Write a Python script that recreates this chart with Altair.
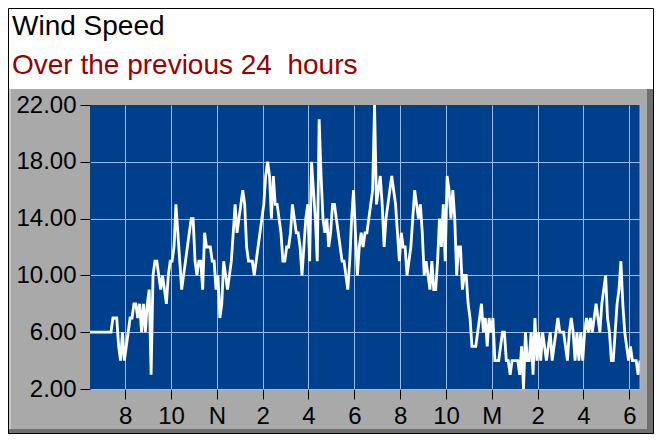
import json
import altair as alt
import pandas as pd

# ---------------- data ----------------
START_HOUR = 6 + 28 / 60          # first sample ~6:28 am
STEP_HOURS = 5 / 60               # one sample every 5 minutes
speed = [
    6, 6, 6, 6, 6, 6, 6, 6, 6, 6,
    6, 6, 7, 7, 7, 5, 4, 6, 4, 5,
    6, 7, 7, 8, 8, 7, 8, 6, 8, 6,
    8, 9, 3, 10, 11, 11, 10, 9, 10, 9,
    8, 10, 11, 11, 12, 15, 13, 11, 9, 10,
    11, 12, 13, 14, 14, 11, 10, 11, 11, 9,
    13, 12, 12, 12, 11, 11, 9, 10, 7, 8,
    11, 10, 9, 10, 11, 13, 15, 13, 14, 15,
    16, 15, 12, 11, 11, 11, 10, 11, 12, 13,
    14, 15, 17, 18, 17, 14, 17, 15, 15, 14,
    13, 11, 11, 12, 12, 13, 15, 14, 13, 13,
    12, 10, 12, 14, 15, 11, 18, 16, 14, 11,
    21, 17, 14, 13, 14, 12, 13, 15, 15, 14,
    13, 12, 11, 11, 10, 9, 11, 14, 16, 13,
    10, 12, 13, 12, 13, 13, 14, 15, 16, 22,
    15, 16, 17, 15, 12, 14, 15, 16, 17, 16,
    15, 13, 11, 13, 12, 12, 10, 11, 12, 14,
    16, 15, 14, 15, 13, 10, 11, 10, 9, 11,
    9, 9, 11, 14, 12, 15, 11, 17, 16, 14,
    16, 14, 10, 12, 12, 9, 10, 10, 8, 7,
    5, 5, 5, 6, 7, 8, 6, 7, 5, 7,
    6, 7, 4, 4, 4, 5, 6, 6, 4, 4,
    3, 4, 4, 4, 4, 3, 5, 2, 6, 4,
    4, 6, 3, 7, 4, 6, 4, 6, 5, 4,
    5, 6, 4, 5, 6, 7, 6, 6, 6, 5,
    4, 6, 7, 6, 4, 6, 4, 6, 4, 6,
    7, 6, 7, 6, 7, 8, 7, 6, 8, 9,
    10, 7, 6, 4, 4, 6, 8, 9, 11, 8,
    6, 5, 4, 5, 4, 4, 4, 3, 4,
]
hours = [START_HOUR + i * STEP_HOURS for i in range(len(speed))]

x_ticks = [8, 10, 12, 14, 16, 18, 20, 22, 24, 26, 28, 30]
x_labels = ["8", "10", "N", "2", "4", "6", "8", "10", "M", "2", "4", "6"]
y_ticks = [2, 6, 10, 14, 18, 22]
y_domain = [2, 22]

title_text = "Wind Speed"
subtitle_text = "Over the previous 24\u00a0 hours"

# ---------------- styling ----------------
FONT = "Liberation Sans"
PLOT_BG = "#003f8c"
GRID = "#9dbbe8"
PANEL = "#a9a9a9"
W, H = 550, 284
PAD_L, PAD_T, PAD_R, PAD_B = 82, 97, 14, 45

df = pd.DataFrame({"hour": hours, "speed": speed})
one = pd.DataFrame({"k": [0]})

label_expr = json.dumps(x_labels) + "[round((datum.value - 8) / 2)]"

line = alt.Chart(df).mark_line(color="white", strokeWidth=2.8, clip=True).encode(
    x=alt.X(
        "hour:Q",
        scale=alt.Scale(domain=[START_HOUR, START_HOUR + 24], nice=False, zero=False),
        axis=alt.Axis(
            values=x_ticks, labelExpr=label_expr, title=None,
            grid=True, gridColor=GRID, gridWidth=1, domain=False,
            tickColor="black", tickSize=10, tickWidth=1,
            labelFont=FONT, labelFontSize=24, labelColor="black",
            labelPadding=5, labelFlush=False, labelOverlap=False,
        ),
    ),
    y=alt.Y(
        "speed:Q",
        scale=alt.Scale(domain=y_domain, nice=False, zero=False),
        axis=alt.Axis(
            values=y_ticks, format=".2f", title=None,
            grid=True, gridColor=GRID, gridWidth=1,
            gridOpacity={"condition": {"test": "datum.value >= 22", "value": 0}, "value": 1},
            domain=False,
            tickColor="black", tickSize=10, tickWidth=1,
            labelFont=FONT, labelFontSize=24, labelColor="black",
            labelPadding=4, labelOverlap=False,
        ),
    ),
)

right_edge = alt.Chart(one).mark_rule(color=GRID, strokeWidth=1).encode(
    x=alt.value(W), y=alt.value(0), y2=alt.value(H)
)

top_white = alt.Chart(one).mark_rect(color="white").encode(
    x=alt.value(-PAD_L), x2=alt.value(W + PAD_R), y=alt.value(-PAD_T), y2=alt.value(-16)
)
left_light = alt.Chart(one).mark_rect(color="#c6c6c6").encode(
    x=alt.value(-PAD_L), x2=alt.value(-PAD_L + 3), y=alt.value(-16), y2=alt.value(H + PAD_B)
)
right_dark = alt.Chart(one).mark_rect(color="#6f6f6f").encode(
    x=alt.value(W + PAD_R - 7), x2=alt.value(W + PAD_R), y=alt.value(-16), y2=alt.value(H + PAD_B)
)
bottom_dark = alt.Chart(one).mark_rect(color="#6f6f6f").encode(
    x=alt.value(-PAD_L), x2=alt.value(W + PAD_R), y=alt.value(H + PAD_B - 5), y2=alt.value(H + PAD_B)
)
border = alt.Chart(one).mark_rect(fillOpacity=0, stroke="black", strokeWidth=1).encode(
    x=alt.value(-PAD_L + 0.5), x2=alt.value(W + PAD_R - 0.5),
    y=alt.value(-PAD_T + 0.5), y2=alt.value(H + PAD_B - 0.5)
)

title = alt.Chart(pd.DataFrame({"t": [title_text]})).mark_text(
    align="left", baseline="alphabetic", font=FONT, fontSize=28, color="black"
).encode(x=alt.value(-PAD_L + 4), y=alt.value(-70), text="t:N")

subtitle = alt.Chart(pd.DataFrame({"t": [subtitle_text]})).mark_text(
    align="left", baseline="alphabetic", font=FONT, fontSize=28, color="#9b0000"
).encode(x=alt.value(-PAD_L + 4), y=alt.value(-31), text="t:N")

chart = alt.layer(
    top_white, left_light, right_dark, bottom_dark, line, right_edge, title, subtitle, border
).properties(
    width=W,
    height=H,
    padding={"left": PAD_L, "top": PAD_T, "right": PAD_R, "bottom": PAD_B},
    autosize=alt.AutoSizeParams(type="none"),
    background=PANEL,
).configure_view(fill=PLOT_BG, stroke=None)

chart.save("out.html", embed_options={"renderer": "svg", "actions": False})
